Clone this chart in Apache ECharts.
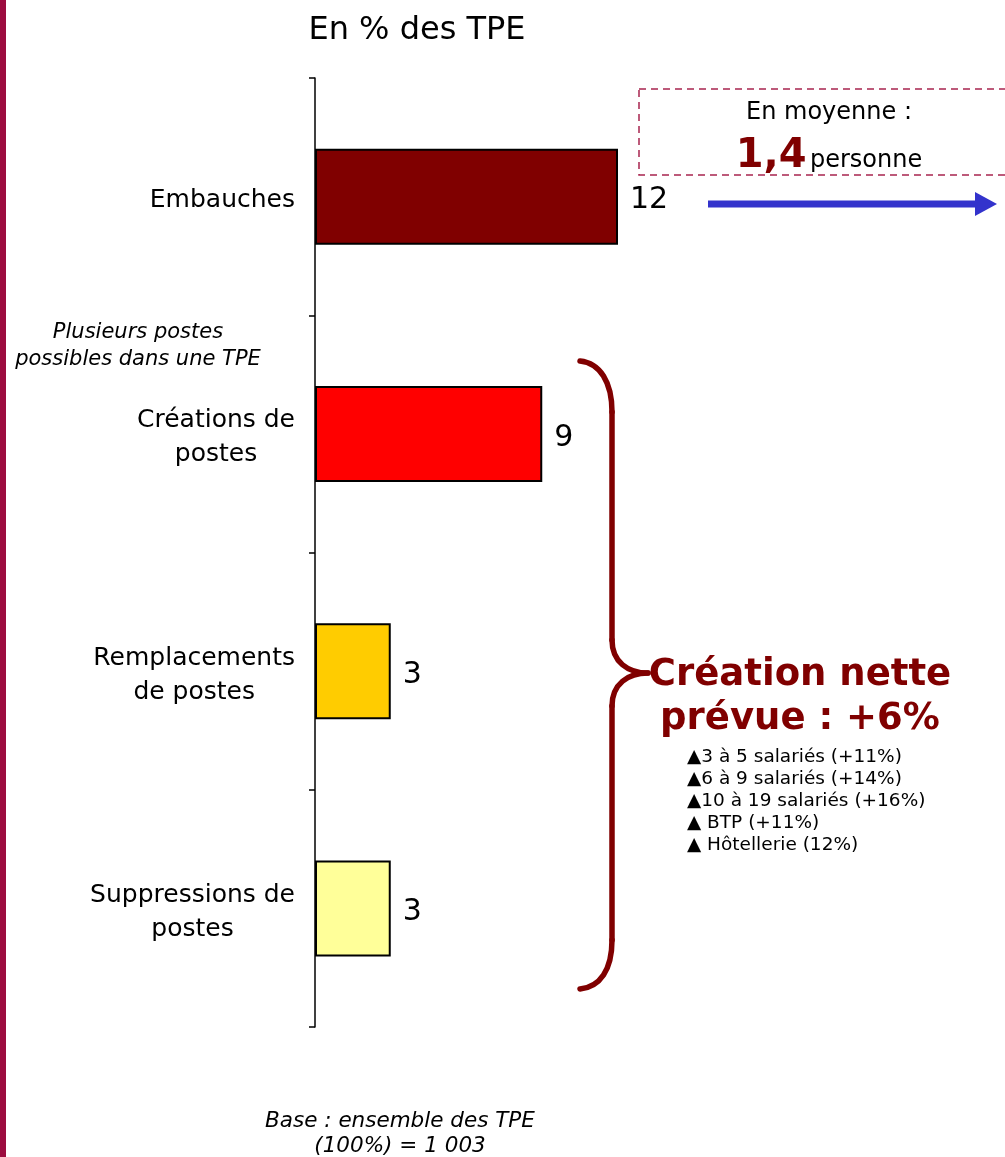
<!DOCTYPE html>
<html>
<head>
<meta charset="utf-8">
<script src="https://cdn.jsdelivr.net/npm/echarts@6/dist/echarts.min.js"></script>
<style>
  html, body { margin: 0; padding: 0; background: #fff; }
  #chart { width: 1005px; height: 1157px; }
</style>
</head>
<body>
<div id="chart"></div>
<script>
const categories = ["Embauches", "Créations de\npostes", "Remplacements\nde postes", "Suppressions de\npostes"];
const values = [12, 9, 3, 3];
const barColors = ["#800000", "#ff0000", "#ffcc00", "#ffff99"];

const titleText = "En % des TPE";
const averageLabel = "En moyenne :";
const averageValue = "1,4";
const averageUnit = "personne";
const netTitle = "Création nette\nprévue : +6%";
const netDetails = [
  "▲3 à 5 salariés (+11%)",
  "▲6 à 9 salariés (+14%)",
  "▲10 à 19 salariés (+16%)",
  "▲ BTP (+11%)",
  "▲ Hôtellerie (12%)",
];
const sideNote = "Plusieurs postes\npossibles dans une TPE";
const baseNote = "Base : ensemble des TPE\n(100%) = 1 003";

const FONT = "'DejaVu Sans', Verdana, sans-serif";
const DARK_RED = "#800000";

// brace drawn piece by piece (graphic has no raw path type)
const braceStyle = { fill: "none", stroke: DARK_RED, lineWidth: 5.5, lineCap: "round" };
function braceCurve(p) {
  return {
    type: "bezierCurve",
    shape: { x1: p[0], y1: p[1], cpx1: p[2], cpy1: p[3], cpx2: p[4], cpy2: p[5], x2: p[6], y2: p[7] },
    style: braceStyle,
  };
}
function braceLine(x1, y1, x2, y2) {
  return { type: "line", shape: { x1, y1, x2, y2 }, style: braceStyle };
}

const chart = echarts.init(document.getElementById("chart"), null, { renderer: "canvas" });

chart.setOption({
  animation: false,
  backgroundColor: "#fff",
  textStyle: { fontFamily: FONT },
  grid: { left: 315, right: 387, top: 78, bottom: 130 },
  xAxis: {
    type: "value",
    min: 0,
    max: 12,
    show: false,
  },
  yAxis: {
    type: "category",
    inverse: true,
    data: categories,
    axisLine: { show: true, lineStyle: { color: "#000", width: 1.5 } },
    axisTick: { show: true, length: 6, lineStyle: { color: "#000", width: 1.5 } },
    axisLabel: {
      margin: 20,
      padding: [8, 0, 0, 0],
      formatter: (v) => v.split("\n").map((l) => "{c|" + l + "}").join("\n"),
      rich: {
        c: { align: "center", fontSize: 25, lineHeight: 34, color: "#000", fontFamily: FONT },
      },
    },
  },
  series: [
    {
      type: "bar",
      barWidth: 96,
      data: values.map((v, i) => ({
        value: v,
        itemStyle: { color: barColors[i], borderColor: "#000", borderWidth: 2 },
      })),
      label: {
        show: true,
        position: "right",
        distance: 12,
        offset: [0, 4],
        fontSize: 30,
        color: "#000",
        fontFamily: FONT,
      },
    },
  ],
  graphic: [
    { type: "rect", left: 0, top: 0, shape: { width: 6, height: 1157 }, style: { fill: "#9c0c3f" } },
    {
      type: "text", x: 417, y: 31,
      style: { text: titleText, fontSize: 32, fill: "#000", align: "center", verticalAlign: "middle", fontFamily: FONT },
    },
    {
      type: "rect", shape: { x: 639, y: 89, width: 380, height: 86 },
      style: { fill: "none", stroke: "#a8254f", lineWidth: 1.5, lineDash: [7, 5] },
    },
    {
      type: "text", x: 829, y: 113,
      style: { text: averageLabel, fontSize: 24, fill: "#000", align: "center", verticalAlign: "middle", fontFamily: FONT },
    },
    {
      type: "text", x: 829, y: 157,
      style: {
        text: "{v|" + averageValue + "} {u|" + averageUnit + "}",
        align: "center", verticalAlign: "middle",
        rich: {
          v: { fontSize: 40, fontWeight: "bold", fill: DARK_RED, fontFamily: FONT },
          u: { fontSize: 24, fill: "#000", fontFamily: FONT, padding: [8, 0, 0, 0] },
        },
      },
    },
    {
      type: "line", shape: { x1: 708, y1: 204, x2: 978, y2: 204 },
      style: { stroke: "#3333cc", lineWidth: 7 },
    },
    {
      type: "polygon", shape: { points: [[975, 192], [997, 204], [975, 216]] },
      style: { fill: "#3333cc" },
    },
    braceCurve([580, 361, 600, 363, 612, 382, 612, 412]),
    braceLine(612, 412, 612, 640),
    braceCurve([612, 640, 612, 662, 628, 673, 648, 673]),
    braceCurve([648, 673, 628, 673, 612, 684, 612, 706]),
    braceLine(612, 706, 612, 940),
    braceCurve([612, 940, 612, 970, 600, 987, 580, 989]),
    {
      type: "text", x: 800, y: 697,
      style: {
        text: netTitle, fontSize: 37, fontWeight: "bold", fill: DARK_RED, lineHeight: 44,
        align: "center", verticalAlign: "middle", fontFamily: FONT,
      },
    },
    {
      type: "text", x: 687, y: 801,
      style: {
        text: netDetails.join("\n"), fontSize: 18.5, lineHeight: 22, fill: "#000",
        align: "left", verticalAlign: "middle", fontFamily: FONT,
      },
    },
    {
      type: "text", x: 138, y: 346,
      style: {
        text: sideNote, fontSize: 21, fontStyle: "italic", lineHeight: 27, fill: "#000",
        align: "center", verticalAlign: "middle", fontFamily: FONT,
      },
    },
    {
      type: "text", x: 400, y: 1134,
      style: {
        text: baseNote, fontSize: 21.5, fontStyle: "italic", lineHeight: 25, fill: "#000",
        align: "center", verticalAlign: "middle", fontFamily: FONT,
      },
    },
  ],
});
</script>
</body>
</html>
